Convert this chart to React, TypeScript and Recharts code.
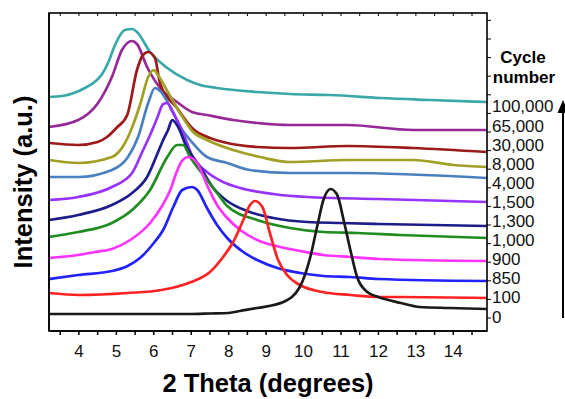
import React from 'react'
import { LineChart, Line, XAxis, YAxis } from 'recharts'

const FONT = '"Liberation Sans", Arial, Helvetica, sans-serif'

// cycle numbers, bottom curve first
const cycles = ['0', '100', '850', '900', '1,000', '1,300', '1,500', '4,000', '8,000', '30,000', '65,000', '100,000']
const colors = ['#1a1a1a', '#ff2222', '#2222ff', '#ff33ff', '#1f8c1f', '#1c1c8a', '#9633ff', '#4a80c0', '#a0a024', '#9c1a1a', '#982898', '#3aa8a8']

// [2 theta, intensity (a.u., stacked)]
const cycle0: [number, number][] = [
  [3.2, 17], [5, 17], [6, 17], [7, 17], [7.5, 17.5], [8, 18], [8.3, 20], [8.76, 23], [9.46, 29], [9.9, 44],
  [10.18, 74], [10.36, 104], [10.53, 131], [10.72, 142], [10.9, 136], [11.07, 111], [11.25, 81], [11.43, 54],
  [11.7, 39], [12, 34], [12.6, 28], [13.1, 24], [13.9, 23], [14.9, 22],
]
const cycle100: [number, number][] = [
  [3.2, 38], [4.0, 36], [5.3, 38], [6.2, 41], [7.0, 49], [7.5, 59], [7.85, 74], [8.12, 89], [8.39, 111],
  [8.57, 126], [8.7, 130], [8.9, 124], [9.1, 98], [9.32, 71], [9.56, 56], [9.9, 46], [10.5, 39], [11.25, 36],
  [12, 34], [12.6, 34], [14.9, 33],
]
const cycle850: [number, number][] = [
  [3.2, 52], [3.98, 56], [4.88, 60], [5.3, 65], [5.63, 73], [6.0, 88], [6.25, 101], [6.52, 124], [6.76, 141],
  [7.02, 144], [7.16, 141], [7.42, 123], [7.69, 106], [7.96, 93], [8.39, 79], [8.76, 71], [9.3, 63], [9.91, 58],
  [10.53, 55], [11.25, 54], [12, 52], [14.9, 50],
]
const cycle900: [number, number][] = [
  [3.2, 73], [3.98, 76], [4.43, 79], [4.88, 82], [5.37, 91], [5.9, 108], [6.22, 125], [6.44, 141], [6.6, 158],
  [6.75, 170], [6.92, 174], [7.16, 168], [7.42, 146], [7.69, 126], [7.96, 113], [8.31, 101], [8.76, 91],
  [9.38, 84], [9.91, 80], [10.53, 76], [11.25, 74], [12, 72], [14.9, 70],
]
const cycle1000: [number, number][] = [
  [3.2, 94], [3.98, 99], [4.88, 108], [5.45, 122], [5.9, 141], [6.36, 174], [6.62, 186], [6.78, 186],
  [6.97, 174], [7.32, 156], [7.69, 138], [7.96, 125], [8.76, 111], [9.64, 103], [10.53, 99], [11.44, 98],
  [12.58, 96], [14.9, 93],
]
const cycle1300: [number, number][] = [
  [3.2, 111], [3.98, 116], [4.88, 126], [5.42, 138], [5.82, 154], [6.17, 184], [6.25, 191], [6.38, 201],
  [6.49, 211], [6.62, 206], [6.89, 183], [7.24, 164], [7.59, 143], [7.96, 130], [8.49, 120], [9.19, 113],
  [10.1, 109], [11.0, 108], [12, 107], [14.9, 105],
]
const cycle1500: [number, number][] = [
  [3.2, 131], [3.98, 134], [4.88, 144], [5.42, 158], [5.69, 179], [5.9, 196], [6.09, 213], [6.25, 227],
  [6.36, 228], [6.49, 220], [6.78, 198], [7.05, 173], [7.42, 159], [7.85, 149], [8.31, 143], [9.19, 137],
  [10.1, 134], [12, 132], [14.9, 129],
]
const cycle4000: [number, number][] = [
  [3.2, 154], [3.98, 154], [4.88, 161], [5.31, 174], [5.58, 194], [5.85, 228], [6.03, 243], [6.17, 240],
  [6.44, 224], [6.76, 201], [6.97, 191], [7.42, 174], [7.96, 168], [8.57, 161], [9.64, 158], [11.17, 158],
  [14.9, 153],
]
const cycle8000: [number, number][] = [
  [3.2, 171], [3.98, 168], [4.88, 174], [5.23, 188], [5.37, 199], [5.63, 226], [5.85, 254], [6.0, 261],
  [6.11, 256], [6.36, 240], [6.7, 218], [7.05, 199], [7.42, 191], [8.12, 181], [8.84, 174], [9.64, 169],
  [11.17, 171], [12.93, 171], [14.0, 166], [14.9, 164],
]
const cycle30000: [number, number][] = [
  [3.2, 188], [3.98, 186], [4.5, 189], [4.75, 194], [5.0, 203], [5.29, 216], [5.55, 261], [5.71, 276],
  [5.85, 279], [6.03, 273], [6.17, 247], [6.62, 223], [7.05, 202], [7.5, 193], [7.85, 189], [8.76, 184],
  [9.64, 183], [11.17, 185], [12.93, 183], [14.9, 179],
]
const cycle65000: [number, number][] = [
  [3.2, 204], [3.98, 211], [4.51, 228], [4.88, 254], [5.15, 281], [5.42, 290], [5.55, 287], [5.82, 264],
  [6.17, 243], [6.62, 229], [7.02, 219], [7.42, 216], [8.12, 211], [8.76, 208], [9.64, 206], [11.17, 206],
  [12.93, 201], [14.9, 201],
]
const cycle100000: [number, number][] = [
  [3.2, 234], [3.55, 235], [4.16, 243], [4.45, 250], [4.62, 257], [4.8, 270], [4.93, 283], [5.23, 301],
  [5.42, 302], [5.55, 299], [5.9, 279], [6.36, 263], [6.89, 251], [7.24, 246], [7.69, 243], [8.76, 239],
  [9.64, 237], [10.71, 236], [12.05, 233], [13.39, 231], [14.9, 229],
]

const curves = [
  cycle0, cycle100, cycle850, cycle900, cycle1000, cycle1300,
  cycle1500, cycle4000, cycle8000, cycle30000, cycle65000, cycle100000,
]

const X_MIN = 3.2
const X_MAX = 14.9
const Y_MAX = 318
const xTicks = [4, 5, 6, 7, 8, 9, 10, 11, 12, 13, 14]
const xMinorTicks = Array.from({ length: 23 }, (_, i) => 3.5 + i * 0.5)
const leftTicks = Array.from({ length: 26 }, (_, i) => 6 + i * 12.3)
const rightTicks = Array.from({ length: 17 }, (_, i) => 13 + i * 18.6)

// plot box (px), used only for the frame and its top/right ticks
const PLOT = { left: 49, top: 13, right: 487, bottom: 331 }
const px = (x: number) => PLOT.left + ((x - X_MIN) / (X_MAX - X_MIN)) * (PLOT.right - PLOT.left)
const py = (y: number) => PLOT.bottom - (y / Y_MAX) * (PLOT.bottom - PLOT.top)

const App: React.FC = () => {
  const series = curves.map((pts, i) => ({
    name: cycles[i],
    color: colors[i],
    data: pts.map(([x, y]) => ({ x, y })),
  }))

  return (
    <div style={{ position: 'absolute', left: 0, top: 0, width: 565, height: 399, background: '#fff' }}>
      <LineChart width={565} height={399} margin={{ top: 13, right: 78, bottom: 38, left: 48 }}>
        <XAxis
          dataKey="x"
          type="number"
          domain={[X_MIN, X_MAX]}
          allowDataOverflow
          ticks={xMinorTicks}
          interval={0}
          tickFormatter={(v: number) => (xTicks.includes(v) ? String(v) : '')}
          height={30}
          tickSize={4}
          tickMargin={10}
          stroke="#000"
          strokeWidth={1.5}
          tick={{ fill: '#111', fontSize: 17, fontFamily: FONT }}
        />
        <YAxis
          type="number"
          domain={[0, Y_MAX]}
          allowDataOverflow
          ticks={leftTicks}
          interval={0}
          width={1}
          tickSize={-3}
          tick={false}
          stroke="#000"
          strokeWidth={1.5}
        />
        {series.slice().reverse().map((s) => (
          <Line
            key={s.name}
            data={s.data}
            dataKey="y"
            type="monotone"
            stroke={s.color}
            strokeWidth={2.7}
            dot={false}
            isAnimationActive={false}
          />
        ))}
      </LineChart>
      <svg width={565} height={399} style={{ position: 'absolute', left: 0, top: 0, pointerEvents: 'none' }}>
        <rect
          x={PLOT.left}
          y={PLOT.top}
          width={PLOT.right - PLOT.left}
          height={PLOT.bottom - PLOT.top}
          fill="none"
          stroke="#000"
          strokeWidth={1.6}
        />
        {xMinorTicks.map((t) => (
          <line key={`tt${t}`} x1={px(t)} x2={px(t)} y1={PLOT.top} y2={PLOT.top + 3} stroke="#000" strokeWidth={1} />
        ))}
        {rightTicks.map((t) => (
          <line key={`rt${t}`} x1={PLOT.right} x2={PLOT.right + 4} y1={py(t)} y2={py(t)} stroke="#000" strokeWidth={1} />
        ))}
        <text
          x={23}
          y={182}
          transform="rotate(-90 23 182)"
          textAnchor="middle"
          dominantBaseline="central"
          fontFamily={FONT}
          fontWeight="bold"
          fontSize={25.5}
          fill="#000"
        >
          Intensity (a.u.)
        </text>
        <text x={268} y={392} textAnchor="middle" fontFamily={FONT} fontWeight="bold" fontSize={25.5} fill="#000">
          2 Theta (degrees)
        </text>
        <text x={523} y={63} textAnchor="middle" fontFamily={FONT} fontWeight="bold" fontSize={17} fill="#000">
          Cycle
        </text>
        <text x={524} y={83} textAnchor="middle" fontFamily={FONT} fontWeight="bold" fontSize={17} fill="#000">
          number
        </text>
        {cycles.map((c, i) => (
          <text
            key={c}
            x={492}
            y={317 - i * 19.1}
            dominantBaseline="central"
            fontFamily={FONT}
            fontSize={17}
            fill="#111"
          >
            {c}
          </text>
        ))}
        <line x1={563} y1={318} x2={563} y2={106} stroke="#000" strokeWidth={2} />
        <polygon points="557.5,113 563,100 568.5,113" fill="#000" />
      </svg>
    </div>
  )
}

export default App
